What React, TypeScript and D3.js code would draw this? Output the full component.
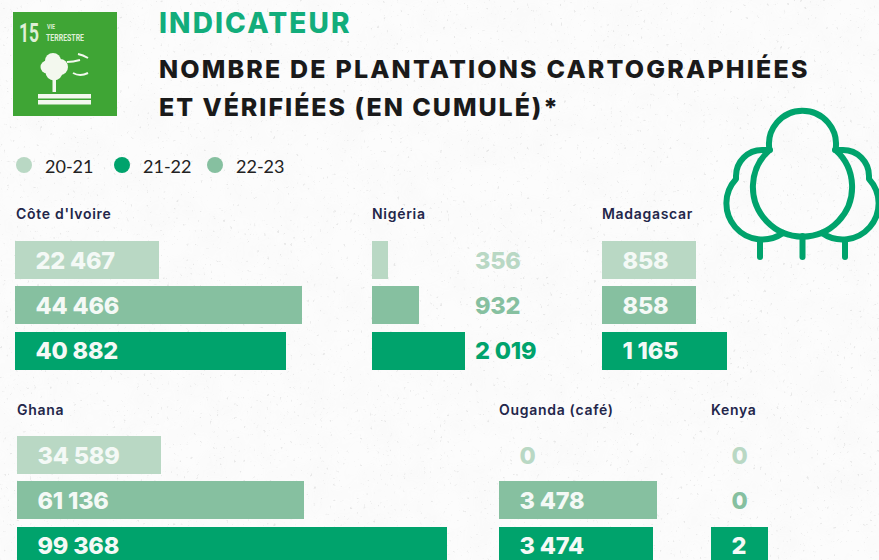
import React from "react";
import * as d3 from "d3";

const width = 879;
const height = 560;

const seasons = ["20-21", "21-22", "22-23"];
const seasonColors = ["#b9d8c4", "#00a36c", "#86c0a0"];
const legendX = [24, 122, 215];
// bars are stacked 20-21, 22-23, 21-22 in the panels
const barOrder = [0, 2, 1];

const coteIvoire = [22467, 44466, 40882];
const nigeria = [356, 932, 2019];
const madagascar = [858, 858, 1165];
const ghana = [34589, 61136, 99368];
const ouganda = [0, 3478, 3474];
const kenya = [0, 0, 2];

const fmt = (v: number) => d3.format(",")(v).replace(/,/g, " ");

const rowBand = d3.scaleBand<number>().domain([0, 1, 2]).range([0, 129]).paddingInner(7.5 / 45.5);

type PanelProps = {
  name: string;
  values: number[];
  x: number;
  y: number;
  range: number[];
  labelX?: number;
  nameX?: number;
  nameY?: number;
};

// the source graphic is not strictly linear, so the scale is piecewise per panel
function Panel({ name, values, x, y, range, labelX, nameX = 0, nameY = -21 }: PanelProps) {
  const domain = Array.from(new Set([0, ...values])).sort(d3.ascending);
  const sx = d3.scaleLinear().domain(domain).range(range);
  return (
    <g transform={`translate(${x},${y})`}>
      <text x={nameX} y={nameY} fontSize={14} fontWeight={600} letterSpacing={0.7} fill="#23264a" fontFamily="Inter, sans-serif">
        {name}
      </text>
      {values.map((v, i) => {
        const color = seasonColors[barOrder[i]];
        const onBar = labelX === undefined && v > 0;
        return (
          <g key={i} transform={`translate(0,${Math.floor(rowBand(i) ?? 0)})`}>
            {v > 0 && <rect width={sx(v)} height={rowBand.bandwidth()} fill={color} />}
            <text
              x={labelX ?? 20.5}
              y={i === 2 ? 27 : 28}
              fontSize={23.5}
              fontWeight={800}
              letterSpacing={-0.2}
              fontFamily="Inter, sans-serif"
              fill={onBar ? "#f4f9f6" : color}
            >
              {fmt(v)}
            </text>
          </g>
        );
      })}
    </g>
  );
}

function TreeIcon() {
  const line = d3.line();
  const stems: [number, number, number][] = [
    [760, 242, 257],
    [802.5, 236, 257],
    [845, 242, 257],
  ];
  return (
    <g fill="none" stroke="#00a36c" strokeWidth={6} strokeLinecap="round" strokeLinejoin="round">
      <path d="M770 150 L762 150 A26 26 0 0 0 736 176 L736 179 A36 36 0 0 0 783 233" />
      <path d="M835 150 L843 150 A26 26 0 0 1 869 176 L869 179 A36 36 0 0 1 822 233" />
      <path d="M769.5 150 A33.5 33.5 0 1 1 835.5 150 A49.6 49.6 0 1 1 769.5 150 Z" />
      {stems.map((s, i) => (
        <path key={i} d={line([[s[0], s[1]], [s[0], s[2]]]) ?? ""} />
      ))}
    </g>
  );
}

function Sdg15() {
  return (
    <g>
      <rect x={13} y={12} width={104} height={104} fill="#3fa535" />
      <text x={19} y={42} fontSize={25} fontWeight={700} fill="#dfefd6" fontFamily="Roboto, sans-serif" textLength={20} lengthAdjust="spacingAndGlyphs">
        15
      </text>
      <text x={47} y={29} fontSize={8} fontWeight={700} fill="#dfefd6" fontFamily="Roboto, sans-serif" textLength={8} lengthAdjust="spacingAndGlyphs">
        VIE
      </text>
      <text x={46} y={41} fontSize={9.5} fontWeight={700} fill="#dfefd6" fontFamily="Roboto, sans-serif" textLength={38} lengthAdjust="spacingAndGlyphs">
        TERRESTRE
      </text>
      <g fill="#f3f8ee">
        <circle cx={47} cy={67} r={6.5} />
        <circle cx={53} cy={61} r={8} />
        <circle cx={60} cy={67} r={8} />
        <circle cx={54} cy={72} r={8.5} />
        <rect x={52.5} y={75} width={3.5} height={17} />
        <rect x={38} y={94} width={53} height={4.5} />
        <rect x={38} y={100} width={53} height={4.5} />
      </g>
      <g fill="none" stroke="#f3f8ee" strokeWidth={2}>
        <path d="M67 62 Q73 62 80 60" />
        <path d="M78 54 Q83 55 88 58" />
        <path d="M73 73 Q80 77 88 73" />
      </g>
    </g>
  );
}

export default function App() {
  return (
    <svg
      width={width}
      height={height}
      viewBox={`0 0 ${width} ${height}`}
      style={{ position: "fixed", left: 0, top: 0, display: "block" }}
    >
      <defs>
        <filter id="mottle" x="0" y="0" width="100%" height="100%">
          <feTurbulence type="fractalNoise" baseFrequency="0.03" numOctaves={3} seed={4} />
          <feColorMatrix values="0 0 0 0 0.5  0 0 0 0 0.5  0 0 0 0 0.5  0.35 0 0 0 -0.12" />
        </filter>
        <filter id="specks" x="0" y="0" width="100%" height="100%">
          <feTurbulence type="fractalNoise" baseFrequency="0.3" numOctaves={2} seed={9} />
          <feColorMatrix values="0 0 0 0 0.35  0 0 0 0 0.35  0 0 0 0 0.35  8 0 0 0 -5.6" />
        </filter>
      </defs>
      <rect width={width} height={height} fill="#fcfcfc" />
      <rect width={width} height={height} filter="url(#mottle)" opacity={0.2} />
      <rect width={width} height={height} filter="url(#specks)" opacity={0.2} />

      <Sdg15 />
      <text x={159} y={33} fontSize={28} fontWeight={800} fill="#12ad7b" letterSpacing={2.1} fontFamily="Inter, sans-serif">
        INDICATEUR
      </text>
      <text x={159} y={78} fontSize={25} fontWeight={800} fill="#1a1a1a" letterSpacing={2.17} fontFamily="Inter, sans-serif">
        NOMBRE DE PLANTATIONS CARTOGRAPHIÉES
      </text>
      <text x={159} y={116} fontSize={25} fontWeight={800} fill="#1a1a1a" letterSpacing={1.95} fontFamily="Inter, sans-serif">
        ET VÉRIFIÉES (EN CUMULÉ)*
      </text>

      {seasons.map((s, i) => (
        <g key={s} transform={`translate(${legendX[i]},165)`}>
          <circle r={8} fill={seasonColors[i]} />
          <text x={21} y={8} fontSize={18} fontWeight={400} fill="#222" fontFamily="Lato, sans-serif">
            {s}
          </text>
        </g>
      ))}

      <Panel name="Côte d'Ivoire" values={coteIvoire} x={15} y={241} range={[0, 144, 271, 287]} nameX={1} nameY={-22} />
      <Panel name="Nigéria" values={nigeria} x={372} y={241} range={[0, 16, 47, 93]} labelX={103} nameY={-22} />
      <Panel name="Madagascar" values={madagascar} x={602} y={241} range={[0, 94, 125]} nameY={-22} />
      <Panel name="Ghana" values={ghana} x={17} y={436} range={[0, 144, 287, 430]} />
      <Panel name="Ouganda (café)" values={ouganda} x={499} y={436} range={[0, 154, 158]} />
      <Panel name="Kenya" values={kenya} x={711} y={436} range={[0, 57]} />

      <TreeIcon />
    </svg>
  );
}
